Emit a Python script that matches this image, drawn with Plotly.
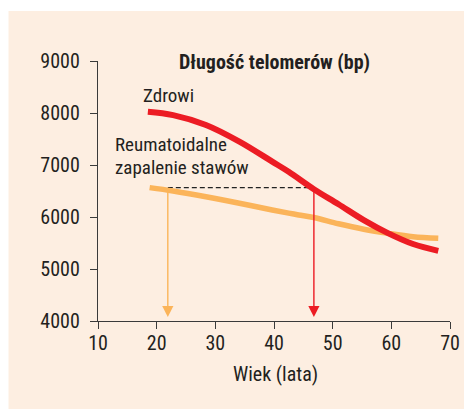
import plotly.graph_objects as go

# ---- data ----
healthy_age = [18.5, 22.8, 28.4, 34.1, 39.7, 42.5, 46.8, 51.0, 55.3, 59.5, 63.7, 68.0]
healthy_tl = [8025, 7960, 7770, 7450, 7065, 6870, 6535, 6245, 5940, 5685, 5480, 5350]
ra_age = [18.8, 22.8, 28.4, 34.1, 39.7, 42.5, 44.2, 46.8, 51.0, 55.3, 59.5, 63.7, 68.0]
ra_tl = [6565, 6500, 6390, 6265, 6135, 6075, 6040, 5990, 5870, 5765, 5685, 5620, 5590]
match_tl = 6565          # telomere length at which the arrows start
ra_match_age = 21.9      # RA age
healthy_match_age = 46.8  # healthy age with same telomere length
x_ticks = [10, 20, 30, 40, 50, 60, 70]
y_ticks = [4000, 5000, 6000, 7000, 8000, 9000]

RED = "#ec1c24"
ORANGE = "#fbb45a"
TXT = "#231f20"
BG = "#fdeee1"
FONT = "Roboto Condensed, sans-serif"

fig = go.Figure()
fig.add_trace(go.Scatter(x=[ra_match_age, healthy_match_age], y=[match_tl, match_tl],
                         mode="lines", line=dict(color="#222", width=1.3, dash="5px,3px"),
                         hoverinfo="skip"))
fig.add_trace(go.Scatter(x=ra_age, y=ra_tl, mode="lines",
                         line=dict(color=ORANGE, width=5.5, shape="spline"), hoverinfo="skip"))
fig.add_trace(go.Scatter(x=healthy_age, y=healthy_tl, mode="lines",
                         line=dict(color=RED, width=6, shape="spline"), hoverinfo="skip"))

# page has an 8px body margin: figure occupies page pixels 8..472 x 8..409
OFF = 8
W, H = 472 - OFF, 409 - OFF
L, R, T, B = 98 - OFF, 472 - 452, 61 - OFF, 409 - 321
pw, ph = W - L - R, H - T - B

def px(xp):  # page pixel x -> paper
    return (xp - OFF - L) / pw

def py(yp):  # page pixel y -> paper
    return (H - B - (yp - OFF)) / ph

fig.add_shape(type="rect", xref="paper", yref="paper", x0=px(8), x1=px(480),
              y0=py(420), y1=py(11), fillcolor=BG, line=dict(width=0), layer="below")

for xa, col in [(ra_match_age, ORANGE), (healthy_match_age, RED)]:
    fig.add_annotation(x=xa, y=4075, ax=xa, ay=match_tl, xref="x", yref="y",
                       axref="x", ayref="y", text="", showarrow=True,
                       arrowhead=2, arrowsize=1.6, arrowwidth=1.4, arrowcolor=col)

fig.add_annotation(x=40, y=8985, xref="x", yref="y", text="<b>Długość telomerów (bp)</b>",
                   showarrow=False, font=dict(size=20, color=TXT, family=FONT),
                   xanchor="center", yanchor="middle")
fig.add_annotation(x=17.4, y=8330, xref="x", yref="y", text="Zdrowi",
                   showarrow=False, font=dict(size=19, color=TXT, family=FONT),
                   xanchor="left", yanchor="middle")
fig.add_annotation(x=12.5, y=7385, xref="x", yref="y", text="Reumatoidalne",
                   showarrow=False, font=dict(size=19, color=TXT, family=FONT),
                   xanchor="left", yanchor="middle")
fig.add_annotation(x=12.5, y=6945, xref="x", yref="y", text="zapalenie stawów",
                   showarrow=False, font=dict(size=19, color=TXT, family=FONT),
                   xanchor="left", yanchor="middle")
fig.add_annotation(x=40.2, y=py(374), xref="x", yref="paper", text="Wiek (lata)",
                   showarrow=False, font=dict(size=20, color=TXT, family=FONT),
                   xanchor="center", yanchor="middle")

axis_common = dict(showgrid=False, zeroline=False, showline=True, linecolor="#3a3a3a",
                   linewidth=1.3, ticks="outside", ticklen=7, tickwidth=1.3,
                   tickcolor="#3a3a3a", tickfont=dict(size=20, color=TXT, family=FONT))
fig.update_xaxes(range=[10, 70], tickvals=x_ticks, ticklabelstandoff=-3, **axis_common)
fig.update_yaxes(range=[4000, 9000], tickvals=y_ticks, ticklabelstandoff=6, **axis_common)

fig.update_layout(width=W, height=H, margin=dict(l=L, r=R, t=T, b=B),
                  paper_bgcolor="white", plot_bgcolor="rgba(0,0,0,0)",
                  showlegend=False, font=dict(family=FONT, color=TXT))
fig.write_html("out.html")
